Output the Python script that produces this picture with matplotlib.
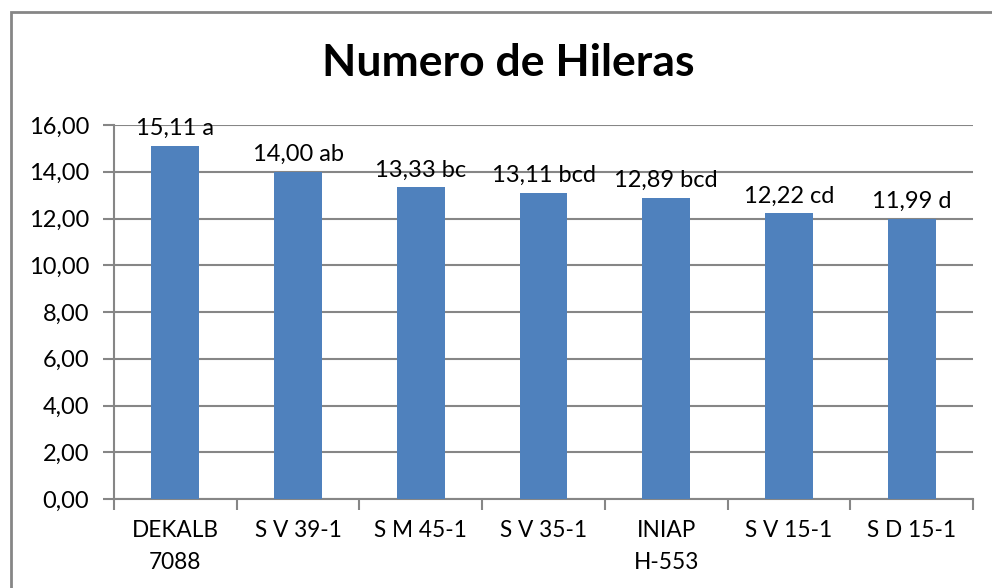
import matplotlib.pyplot as plt
import numpy as np
from matplotlib.patches import Rectangle

categorias = ['DEKALB\n7088', 'S V 39-1', 'S M 45-1', 'S V 35-1', 'INIAP\nH-553', 'S V 15-1', 'S D 15-1']
valores = [15.11, 14.00, 13.33, 13.11, 12.89, 12.22, 11.99]
letras = ['a', 'ab', 'bc', 'bcd', 'bcd', 'cd', 'd']
yticks = [0, 2, 4, 6, 8, 10, 12, 14, 16]

plt.rcParams['font.family'] = ['Lato', 'DejaVu Sans']
gris = '#868686'

fig = plt.figure(figsize=(9.92, 5.88), dpi=100)
ax = fig.add_axes([114/992, 89/588, (973-114)/992, (499-125)/588])

x = np.arange(len(valores))
bars = ax.bar(x, valores, width=0.39, color='#4F81BD', zorder=3)

for xi, v, l in zip(x, valores, letras):
    txt = ('%.2f' % v).replace('.', ',') + ' ' + l
    ax.annotate(txt, (xi, v), xytext=(0, 5), textcoords='offset points',
                ha='center', va='bottom', fontsize=17, zorder=4)

ax.set_xlim(-0.5, len(valores) - 0.5)
ax.set_ylim(0, 16)
ax.set_yticks(yticks)
ax.set_yticklabels([('%.2f' % t).replace('.', ',') for t in yticks], fontsize=17)
ax.yaxis.grid(True, color=gris, linewidth=1.5, zorder=0)

ax.set_xticks(x)
ax.set_xticklabels(categorias, fontsize=16.3, linespacing=1.65)
ax.set_xticks(np.arange(-0.5, len(valores)), minor=True)
ax.tick_params(axis='x', which='major', length=0, pad=15)
ax.tick_params(axis='x', which='minor', length=8, width=1.5, color=gris)
ax.tick_params(axis='y', length=8, width=1.5, color=gris, pad=10)

for s in ['top', 'right']:
    ax.spines[s].set_visible(False)
for s in ['left', 'bottom']:
    ax.spines[s].set_color(gris)
    ax.spines[s].set_linewidth(1.5)

fig.text(508/992, 1 - 63/588, 'Numero de Hileras', ha='center', va='center',
         fontsize=32, fontweight='bold')

fig.patches.append(Rectangle((11/992, -0.1), 1.2, 1 - 12/588 + 0.1, transform=fig.transFigure,
                             fill=False, edgecolor=gris, linewidth=2))

fig.savefig('out.png', dpi=100)
